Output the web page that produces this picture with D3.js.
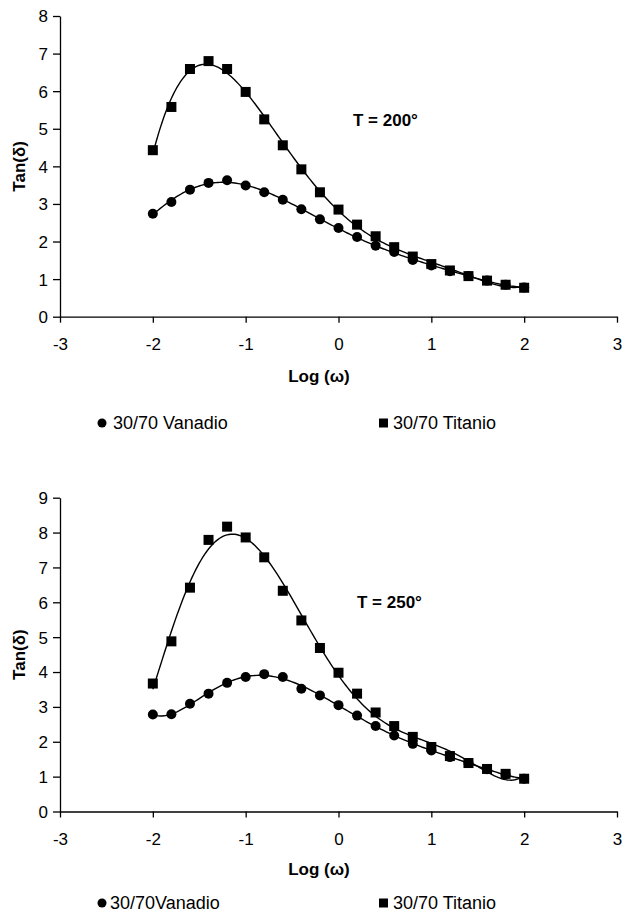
<!doctype html>
<html lang="en">
<head>
<meta charset="utf-8">
<title>Tan(δ) vs Log(ω)</title>
<script src="https://cdn.jsdelivr.net/npm/d3@7/dist/d3.min.js"></script>
<style>
  body { margin: 0; background: #fff; }
  svg { display: block; font-family: "Liberation Sans", Arial, sans-serif; }
  .tick text { font-family: "Liberation Sans", Arial, sans-serif; font-size: 17px; fill: #000; }
  .domain, .tick line { stroke: #000; stroke-width: 1.3px; }
</style>
</head>
<body>
<svg id="chart" width="623" height="916"></svg>
<script>
// log(omega) sample positions, shared by both panels
const logOmega = [-2, -1.8, -1.6, -1.4, -1.2, -1, -0.8, -0.6, -0.4, -0.2, 0,
  0.2, 0.4, 0.6, 0.8, 1, 1.2, 1.4, 1.6, 1.8, 2];

// T = 200°
const vanadio200 = [2.74, 3.05, 3.38, 3.56, 3.63, 3.49, 3.31, 3.11, 2.86, 2.59, 2.36,
  2.12, 1.89, 1.72, 1.51, 1.36, 1.21, 1.08, 0.96, 0.85, 0.78];
const titanio200 = [4.43, 5.58, 6.59, 6.80, 6.59, 5.98, 5.25, 4.56, 3.92, 3.31, 2.85,
  2.45, 2.14, 1.85, 1.60, 1.40, 1.23, 1.08, 0.96, 0.85, 0.77];

// T = 250°
const vanadio250 = [2.78, 2.79, 3.09, 3.38, 3.69, 3.86, 3.94, 3.86, 3.52, 3.33, 3.05,
  2.75, 2.45, 2.18, 1.94, 1.75, 1.56, 1.39, 1.21, 1.06, 0.94];
const titanio250 = [3.67, 4.88, 6.42, 7.79, 8.17, 7.86, 7.29, 6.33, 5.48, 4.69, 3.98,
  3.38, 2.84, 2.45, 2.14, 1.85, 1.59, 1.39, 1.22, 1.08, 0.94];

const xTicks = [-3, -2, -1, 0, 1, 2, 3];
const panels = [
  { label: "T = 200°", yMax: 8, vanadio: vanadio200, titanio: titanio200,
    legendV: "30/70 Vanadio", legendT: "30/70 Titanio",
    top: 16, bottom: 316.7, labelX: 353, labelY: 126, tickBase: 350, titleBase: 382, legendBase: 429, legendTextX: 113 },
  { label: "T = 250°", yMax: 9, vanadio: vanadio250, titanio: titanio250,
    legendV: "30/70Vanadio", legendT: "30/70 Titanio",
    top: 497.7, bottom: 811.5, labelX: 357, labelY: 608, tickBase: 845, titleBase: 875, legendBase: 909, legendTextX: 110 }
];

// least squares polynomial trendline (order 6), like the spreadsheet trendline
function polyFit(xs, ys, order) {
  const n = order + 1;
  const A = Array.from({ length: n }, () => new Array(n + 1).fill(0));
  xs.forEach((x, k) => {
    for (let i = 0; i < n; i++) {
      for (let j = 0; j < n; j++) A[i][j] += Math.pow(x, i + j);
      A[i][n] += ys[k] * Math.pow(x, i);
    }
  });
  for (let c = 0; c < n; c++) {
    let p = c;
    for (let r = c + 1; r < n; r++) if (Math.abs(A[r][c]) > Math.abs(A[p][c])) p = r;
    [A[c], A[p]] = [A[p], A[c]];
    for (let r = 0; r < n; r++) {
      if (r === c) continue;
      const f = A[r][c] / A[c][c];
      for (let j = c; j <= n; j++) A[r][j] -= f * A[c][j];
    }
  }
  const coef = A.map((row, i) => row[n] / row[i]);
  return (x) => coef.reduce((s, a, i) => s + a * Math.pow(x, i), 0);
}

const svg = d3.select("#chart");
const left = 60, right = 617;
const plain = (d) => String(d); // hyphen minus, as in the original

panels.forEach((p) => {
  const x = d3.scaleLinear().domain([-3, 3]).range([left, right]);
  const y = d3.scaleLinear().domain([0, p.yMax]).range([p.bottom, p.top]);
  const g = svg.append("g");

  g.append("g").attr("transform", `translate(0,${p.bottom})`)
    .call(d3.axisBottom(x).tickValues(xTicks).tickSize(6).tickSizeOuter(0).tickFormat(plain))
    .call((a) => a.selectAll(".tick text").attr("dy", null).attr("y", p.tickBase - p.bottom));

  g.append("g").attr("transform", `translate(${left},0)`)
    .call(d3.axisLeft(y).ticks(p.yMax).tickSize(7).tickSizeOuter(0).tickFormat(plain))
    .call((a) => a.selectAll(".tick text").attr("x", -12).attr("dy", "0.35em"));

  g.append("text")
    .attr("transform", `translate(25,${(p.top + p.bottom) / 2}) rotate(-90)`)
    .attr("text-anchor", "middle").attr("font-size", 17).attr("font-weight", "bold")
    .text("Tan(δ)");

  g.append("text").attr("x", 319).attr("y", p.titleBase)
    .attr("text-anchor", "middle").attr("font-size", 17).attr("font-weight", "bold")
    .text("Log (ω)");

  g.append("text").attr("x", p.labelX).attr("y", p.labelY)
    .attr("font-size", 17).attr("font-weight", "bold").text(p.label);

  const samples = d3.range(0, 201).map((i) => -2 + i * 0.02);
  const line = d3.line().x((d) => x(d[0])).y((d) => y(d[1]));
  [p.vanadio, p.titanio].forEach((vals) => {
    const f = polyFit(logOmega, vals, 6);
    g.append("path").datum(samples.map((s) => [s, f(s)]))
      .attr("d", line).attr("fill", "none").attr("stroke", "#000").attr("stroke-width", 1.4);
  });

  g.selectAll(".dot").data(logOmega.map((v, i) => [v, p.vanadio[i]])).join("circle")
    .attr("cx", (d) => x(d[0])).attr("cy", (d) => y(d[1])).attr("r", 5).attr("fill", "#000");
  g.selectAll(".sq").data(logOmega.map((v, i) => [v, p.titanio[i]])).join("rect")
    .attr("x", (d) => x(d[0]) - 5).attr("y", (d) => y(d[1]) - 5)
    .attr("width", 10).attr("height", 10).attr("fill", "#000");

  // legend
  g.append("circle").attr("cx", 102).attr("cy", p.legendBase - 6).attr("r", 4.5).attr("fill", "#000");
  g.append("text").attr("x", p.legendTextX).attr("y", p.legendBase).attr("font-size", 18).text(p.legendV);
  g.append("rect").attr("x", 379).attr("y", p.legendBase - 10.5).attr("width", 9).attr("height", 9).attr("fill", "#000");
  g.append("text").attr("x", 393).attr("y", p.legendBase).attr("font-size", 18).text(p.legendT);
});
</script>
</body>
</html>
